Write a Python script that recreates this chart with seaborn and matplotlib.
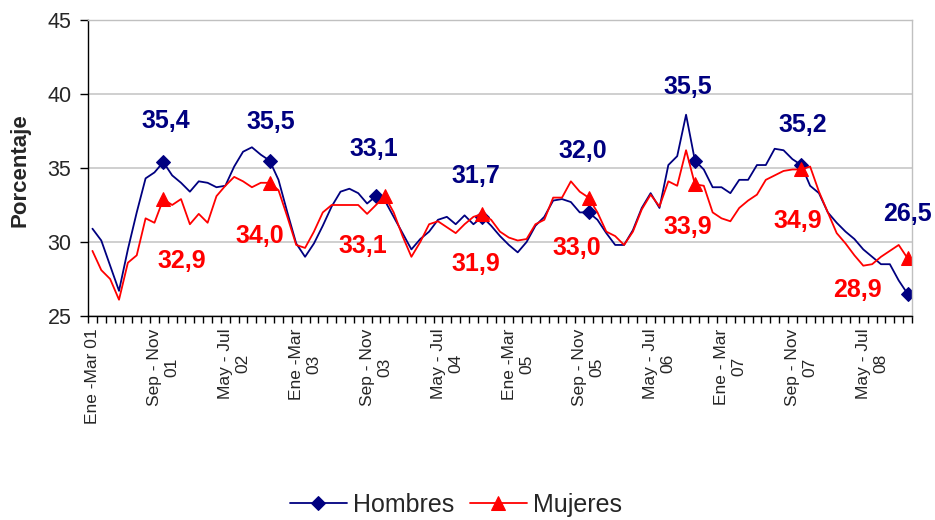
import numpy as np
import pandas as pd
import matplotlib
matplotlib.use("Agg")
import matplotlib.pyplot as plt
import seaborn as sns
from matplotlib.ticker import FixedLocator

# ---------------- data ----------------
hombres = [30.9, 30.1, 28.4, 26.7, 29.5, 32.0, 34.3, 34.7, 35.4, 34.5,
           34.0, 33.4, 34.1, 34.0, 33.7, 33.8, 35.1, 36.1, 36.4, 35.9,
           35.5, 34.2, 32.0, 29.9, 29.0, 29.9, 31.1, 32.4, 33.4, 33.6,
           33.3, 32.6, 33.1, 32.8, 31.7, 30.6, 29.5, 30.2, 30.7, 31.5,
           31.7, 31.2, 31.8, 31.2, 31.7, 31.1, 30.4, 29.8, 29.3, 30.0,
           31.1, 31.7, 32.8, 32.9, 32.7, 32.0, 32.0, 31.5, 30.6, 29.8,
           29.8, 30.8, 32.3, 33.3, 32.3, 35.2, 35.8, 38.6, 35.5, 34.9,
           33.7, 33.7, 33.3, 34.2, 34.2, 35.2, 35.2, 36.3, 36.2, 35.6,
           35.2, 33.8, 33.3, 32.0, 31.3, 30.7, 30.2, 29.5, 29.0, 28.5,
           28.5, 27.4, 26.5]
mujeres = [29.4, 28.1, 27.5, 26.1, 28.6, 29.1, 31.6, 31.3, 32.9, 32.5,
           32.9, 31.2, 31.9, 31.3, 33.1, 33.8, 34.4, 34.1, 33.7, 34.0,
           34.0, 33.5, 31.7, 29.8, 29.6, 30.7, 32.0, 32.5, 32.5, 32.5,
           32.5, 31.9, 32.5, 33.1, 32.0, 30.4, 29.0, 30.0, 31.2, 31.4,
           31.0, 30.6, 31.2, 31.7, 31.9, 31.5, 30.7, 30.3, 30.1, 30.2,
           31.2, 31.5, 33.0, 33.0, 34.1, 33.4, 33.0, 32.0, 30.7, 30.4,
           29.8, 30.7, 32.2, 33.2, 32.4, 34.1, 33.8, 36.2, 33.9, 33.8,
           32.0, 31.6, 31.4, 32.3, 32.8, 33.2, 34.2, 34.5, 34.8, 34.9,
           34.9, 35.1, 33.4, 32.0, 30.6, 29.9, 29.1, 28.4, 28.5, 29.0,
           29.4, 29.8, 28.9]
hombres_marked = [8, 20, 32, 44, 56, 68, 80, 92]
mujeres_marked = [8, 20, 33, 44, 56, 68, 80, 92]
tick_idx = [0, 8, 16, 24, 32, 40, 48, 56, 64, 72, 80, 88]
tick_labels = ["Ene -Mar 01", "Sep - Nov\n01", "May - Jul\n02", "Ene -Mar\n03",
               "Sep - Nov\n03", "May - Jul\n04", "Ene -Mar\n05", "Sep - Nov\n05",
               "May - Jul\n06", "Ene - Mar\n07", "Sep - Nov\n07", "May - Jul\n08"]

# label offsets (pixels, relative to marker): style only
h_off = [(2, -41), (1, -39), (-2, -47), (-6, -41), (-6, -61), (-7, -74), (2, -40), (0, -80)]
m_off = [(18, 62), (-10, 53), (-22, 50), (-6, 50), (-12, 50), (-7, 43), (-3, 52), (-50, 32)]

# ---------------- style ----------------
sns.set_style("white")
plt.rcParams['font.family'] = ['Liberation Sans', 'DejaVu Sans']

BLUE = "#000080"
RED = "#FF0000"

fig = plt.figure(figsize=(9.35, 5.2), dpi=100)
ax = fig.add_axes([88/935, 1-316/520, (912-88)/935, (316-20)/520])

df = pd.DataFrame({"idx": np.arange(len(hombres)), "Hombres": hombres, "Mujeres": mujeres})

sns.lineplot(data=df, x="idx", y="Hombres", ax=ax, color=BLUE, linewidth=1.3,
             marker="D", markevery=hombres_marked, markersize=7.5,
             markeredgecolor=BLUE, markerfacecolor=BLUE, label="Hombres",
             estimator=None, sort=False)
sns.lineplot(data=df, x="idx", y="Mujeres", ax=ax, color=RED, linewidth=1.3,
             marker="^", markevery=mujeres_marked, markersize=10,
             markeredgecolor=RED, markerfacecolor=RED, label="Mujeres",
             estimator=None, sort=False)

px2pt = 72 / 100
for (i, (dx, dy)) in zip(hombres_marked, h_off):
    v = hombres[i]
    ax.annotate(f"{v:.1f}".replace(".", ","), xy=(i, v), xytext=(dx*px2pt, -dy*px2pt),
                textcoords="offset points", ha="center", va="center",
                fontsize=18, fontweight="bold", color=BLUE, annotation_clip=False)
for (i, (dx, dy)) in zip(mujeres_marked, m_off):
    v = mujeres[i]
    ax.annotate(f"{v:.1f}".replace(".", ","), xy=(i, v), xytext=(dx*px2pt, -dy*px2pt),
                textcoords="offset points", ha="center", va="center",
                fontsize=18, fontweight="bold", color=RED, annotation_clip=False)

# axes
ax.set_xlim(-0.5, len(hombres) - 0.5)
ax.set_ylim(25, 45)
ax.set_yticks([25, 30, 35, 40, 45])
ax.yaxis.grid(True, color="#cccccc", linewidth=1.3)
ax.set_axisbelow(True)
ax.tick_params(axis="y", which="major", direction="out", length=6, width=1,
               color="black", labelsize=15.5, pad=6, left=True)

ax.xaxis.set_major_locator(FixedLocator(tick_idx))
ax.set_xticklabels(tick_labels, rotation=90, ha="center", va="top",
                   multialignment="center", fontsize=12.5)
ax.xaxis.set_minor_locator(FixedLocator(np.arange(-0.5, len(hombres), 1)))
ax.tick_params(axis="x", which="major", length=0, pad=9)
ax.tick_params(axis="x", which="minor", direction="out", length=5, width=1,
               color="black", bottom=True)
ax.set_xlabel("")
ax.set_ylabel("")

for s in ["left", "bottom"]:
    ax.spines[s].set_color("black")
    ax.spines[s].set_linewidth(1.0)
for s in ["top", "right"]:
    ax.spines[s].set_color("#c0c0c0")
    ax.spines[s].set_linewidth(1.0)

fig.text(20/935, 1-170/520, "Porcentaje", rotation=90, ha="center", va="center",
         fontsize=16, fontweight="bold")

handles, labels = ax.get_legend_handles_labels()
ax.get_legend().remove()
fig.legend(handles, labels, loc="center", bbox_to_anchor=(456/935, 1-505/520),
           ncol=2, frameon=False, fontsize=18, handlelength=2.3,
           handletextpad=0.25, columnspacing=0.6)

fig.savefig("out.png", dpi=100)
